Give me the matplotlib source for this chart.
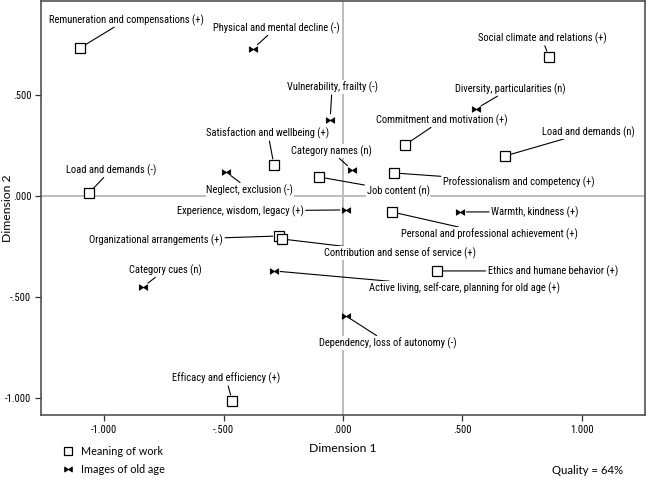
import matplotlib
matplotlib.use("Agg")
import matplotlib.pyplot as plt
from matplotlib.path import Path
from matplotlib.lines import Line2D
from matplotlib import font_manager as fm

# ---------------- data ----------------
work_labels = [
    "Remuneration and compensations (+)", "Social climate and relations (+)",
    "Commitment and motivation (+)", "Load and demands (n)",
    "Satisfaction and wellbeing (+)", "Load and demands (-)", "Job content (n)",
    "Professionalism and competency (+)", "Personal and professional achievement (+)",
    "Organizational arrangements (+)", "Contribution and sense of service (+)",
    "Ethics and humane behavior (+)", "Efficacy and efficiency (+)",
]
work_x = [-1.100, 0.862, 0.259, 0.678, -0.289, -1.063, -0.100, 0.213, 0.205, -0.268, -0.255, 0.393, -0.464]
work_y = [0.733, 0.688, 0.252, 0.198, 0.153, 0.015, 0.094, 0.114, -0.079, -0.198, -0.213, -0.371, -1.015]

age_labels = [
    "Physical and mental decline (-)", "Vulnerability, frailty (-)",
    "Diversity, particularities (n)", "Category names (n)", "Neglect, exclusion (-)",
    "Experience, wisdom, legacy (+)", "Warmth, kindness (+)",
    "Active living, self-care, planning for old age (+)", "Category cues (n)",
    "Dependency, loss of autonomy (-)",
]
age_x = [-0.377, -0.054, 0.556, 0.038, -0.490, 0.013, 0.490, -0.289, -0.837, 0.013]
age_y = [0.728, 0.376, 0.431, 0.129, 0.119, -0.069, -0.079, -0.371, -0.450, -0.594]

xticks = [-1.0, -0.5, 0.0, 0.5, 1.0]
xtick_labels = ["-1.000", "-.500", ".000", ".500", "1.000"]
yticks = [-1.0, -0.5, 0.0, 0.5]
ytick_labels = ["-1.000", "-.500", ".000", ".500"]
quality_text = "Quality = 64%"

# label offsets (pixels) relative to the points -- layout only
work_off = [(46, 28), (-7, 19), (37, 25), (83, 24), (-6, 32), (22, 23), (79, -14),
            (125, -9), (97, -22), (-123, -4), (118, -14), (116, 0), (-6, 23)]
age_off = [(23, 21), (2, 33), (34, 20), (-21, 19), (24, -18), (-106, -1), (75, 0),
           (191, -17), (22, 17), (42, -27)]

# ---------------- fonts ----------------
def pick_narrow():
    prefs = ["Liberation Sans Narrow", "Roboto Condensed", "DejaVu Sans Condensed",
             "Open Sans Condensed", "Noto Sans Condensed"]
    fl = fm.fontManager.ttflist
    for p in prefs:
        for f in fl:
            if f.name == p and f.style == "normal" and f.weight in (400, "normal", "regular"):
                return fm.FontProperties(fname=f.fname), True
    return fm.FontProperties(family=["Lato", "DejaVu Sans"]), False

narrow_fp, is_narrow = pick_narrow()
lab_size = 7.6 if is_narrow else 6.3

def lab_fp(size):
    p = narrow_fp.copy()
    p.set_size(size)
    return p

axis_font = ["Lato", "DejaVu Sans"]

bow = Path([(-1, -0.65), (0, 0), (-1, 0.65), (-1, -0.65),
            (1, -0.65), (0, 0), (1, 0.65), (1, -0.65)],
           [Path.MOVETO, Path.LINETO, Path.LINETO, Path.CLOSEPOLY,
            Path.MOVETO, Path.LINETO, Path.LINETO, Path.CLOSEPOLY])

fig = plt.figure(figsize=(6.47, 4.79), dpi=100)
ax = fig.add_axes([41 / 647, 1 - 415 / 479, 604 / 647, 414 / 479])
ax.set_xlim(-1.264, 1.264)
ax.set_ylim(-1.084, 0.965)

ax.axhline(0, color="#bdbdbd", lw=1.4, zorder=1)
ax.axvline(0, color="#bdbdbd", lw=1.4, zorder=1)

ax.plot(work_x, work_y, ls="none", marker="s", ms=7, mfc="white", mec="black", mew=0.9, zorder=5)
ax.plot(age_x, age_y, ls="none", marker=bow, ms=6, mfc="black", mec="black", mew=0.6, zorder=5)

def annot(lbls, xs, ys, offs):
    for t, x, y, (dx, dy) in zip(lbls, xs, ys, offs):
        ax.annotate(t, (x, y), xytext=(dx, dy), textcoords="offset pixels",
                    ha="center", va="center", fontproperties=lab_fp(lab_size),
                    bbox=dict(boxstyle="square,pad=0.08", fc="white", ec="none"),
                    arrowprops=dict(arrowstyle="-", color="black", lw=0.8,
                                    shrinkA=1.0, shrinkB=4.5),
                    zorder=3)

annot(work_labels, work_x, work_y, work_off)
annot(age_labels, age_x, age_y, age_off)

ax.set_xticks(xticks)
ax.set_xticklabels(xtick_labels, fontproperties=lab_fp(lab_size))
ax.set_yticks(yticks)
ax.set_yticklabels(ytick_labels, fontproperties=lab_fp(lab_size))
ax.tick_params(direction="out", length=4, width=0.9, color="#333333", pad=3)
for s in ax.spines.values():
    s.set_color("#444444")
    s.set_linewidth(1.1)

fig.text(343 / 647, 1 - 449 / 479, "Dimension 1", ha="center", va="center",
         fontsize=8.8, family=axis_font)
fig.text(8 / 647, 1 - 208 / 479, "Dimension 2", ha="center", va="center",
         rotation=90, fontsize=8.8, family=axis_font)
fig.text(623 / 647, 1 - 471 / 479, quality_text, ha="right", va="center",
         fontsize=8.2, family=axis_font)

handles = [Line2D([], [], ls="none", marker="s", ms=6, mfc="white", mec="black", mew=0.9),
           Line2D([], [], ls="none", marker=bow, ms=5.5, mfc="black", mec="black", mew=0.6)]
fig.legend(handles, ["Meaning of work", "Images of old age"], loc="upper left",
           bbox_to_anchor=(63 / 647, 1 - 446 / 479), frameon=False,
           prop=dict(family=axis_font, size=7.8), handlelength=0.9, handletextpad=0.8,
           labelspacing=0.62, borderpad=0, borderaxespad=0)

fig.savefig("out.png", dpi=100)
